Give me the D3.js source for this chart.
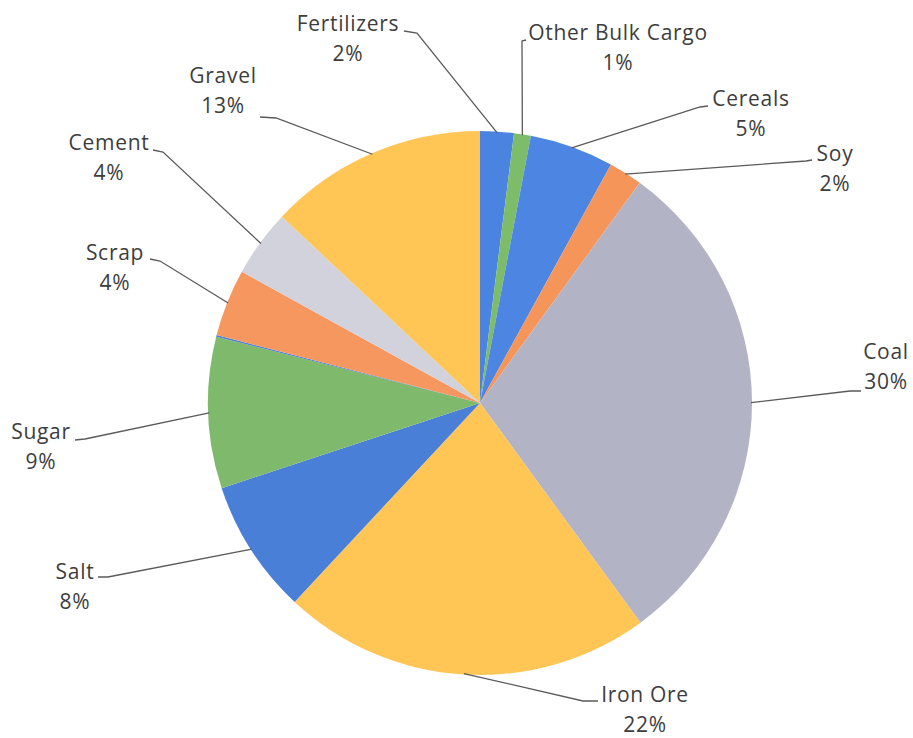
<!DOCTYPE html>
<html>
<head>
<meta charset="utf-8">
<script src="https://cdn.jsdelivr.net/npm/d3@7"></script>
<style>
  html, body { margin: 0; padding: 0; background: #ffffff; }
  svg { display: block; }
  .lbl { font-family: "Open Sans", Lato, sans-serif; font-size: 21px; letter-spacing: 0.7px; fill: #3d3d3d; }
</style>
</head>
<body>
<svg id="chart" width="913" height="738"></svg>
<script>
// Dry bulk cargo share by commodity (percent of tonnage)
const categories = ["Fertilizers", "Other Bulk Cargo", "Cereals", "Soy", "Coal", "Iron Ore",
                    "Salt", "Sugar", "Unspecified", "Scrap", "Cement", "Gravel"];
const shares = [2, 1, 5, 2, 30, 22, 8, 9, 0.1, 4, 4, 13];
// categories whose share is printed beside the pie
const labelled = ["Fertilizers", "Other Bulk Cargo", "Cereals", "Soy", "Coal", "Iron Ore",
                  "Salt", "Sugar", "Scrap", "Cement", "Gravel"];

const data = categories.map((c, i) => ({ name: c, value: shares[i] }));

// slice fills
const fills = {
  "Fertilizers": "#4a84e0", "Other Bulk Cargo": "#7dbd69", "Cereals": "#4c86e2",
  "Soy": "#f5955a", "Coal": "#b3b3c6", "Iron Ore": "#ffc655", "Salt": "#4a7fd8",
  "Sugar": "#7fba6c", "Unspecified": "#4f82cf", "Scrap": "#f5975e", "Cement": "#d2d2dc",
  "Gravel": "#ffc655"
};

// label placement: text centre (x, first line y), leader edge near text, elbow
const labelLayout = {
  "Fertilizers":      { x: 348, y: 24,  edge: [404, 31],  elbow: [417, 33] },
  "Other Bulk Cargo": { x: 618, y: 33,  edge: [526, 40],  elbow: [522, 41] },
  "Cereals":          { x: 751, y: 99,  edge: [708, 106], elbow: [700, 107] },
  "Soy":              { x: 835, y: 154, edge: [812, 160], elbow: [806, 161] },
  "Coal":             { x: 886, y: 352, edge: [861, 391], elbow: [850, 391] },
  "Iron Ore":         { x: 645, y: 695, edge: [598, 701], elbow: [583, 701] },
  "Salt":             { x: 75,  y: 572, edge: [98, 577],  elbow: [108, 577] },
  "Sugar":            { x: 41,  y: 432, edge: [75, 440],  elbow: [85, 439] },
  "Scrap":            { x: 115, y: 253, edge: [150, 259], elbow: [160, 261] },
  "Cement":           { x: 109, y: 143, edge: [153, 150], elbow: [163, 152] },
  "Gravel":           { x: 223, y: 76,  edge: [260, 117], elbow: [276, 118] }
};

const svg = d3.select("#chart");
const cx = 480, cy = 403, radius = 272;

const pie = d3.pie().sort(null).value(d => d.value).startAngle(0).endAngle(2 * Math.PI);
const arcs = pie(data);
const total = d3.sum(shares);
const pct = d3.format(".0%");

const arc = d3.arc().innerRadius(0).outerRadius(radius);
const edgeArc = d3.arc().innerRadius(radius - 1).outerRadius(radius - 1);

const g = svg.append("g").attr("transform", `translate(${cx},${cy})`);

g.selectAll("path.slice")
  .data(arcs)
  .join("path")
  .attr("class", "slice")
  .attr("d", arc)
  .attr("fill", d => fills[d.data.name]);

// leader lines
const line = d3.line();
const labelArcs = arcs.filter(d => labelled.includes(d.data.name));

svg.append("g")
  .selectAll("path")
  .data(labelArcs)
  .join("path")
  .attr("fill", "none")
  .attr("stroke", "#5a5a5a")
  .attr("stroke-width", 1.3)
  .attr("d", d => {
    const L = labelLayout[d.data.name];
    const [px, py] = edgeArc.centroid(d);
    return line([L.edge, L.elbow, [cx + px, cy + py]]);
  });

// labels: category name and share
const labels = svg.append("g")
  .selectAll("text")
  .data(labelArcs)
  .join("text")
  .attr("class", "lbl")
  .attr("text-anchor", "middle");

labels.append("tspan")
  .attr("x", d => labelLayout[d.data.name].x)
  .attr("y", d => labelLayout[d.data.name].y)
  .attr("dy", "0.35em")
  .text(d => d.data.name);

labels.append("tspan")
  .attr("x", d => labelLayout[d.data.name].x)
  .attr("y", d => labelLayout[d.data.name].y + 30)
  .attr("dy", "0.35em")
  .text(d => pct(d.data.value / total));
</script>
</body>
</html>
